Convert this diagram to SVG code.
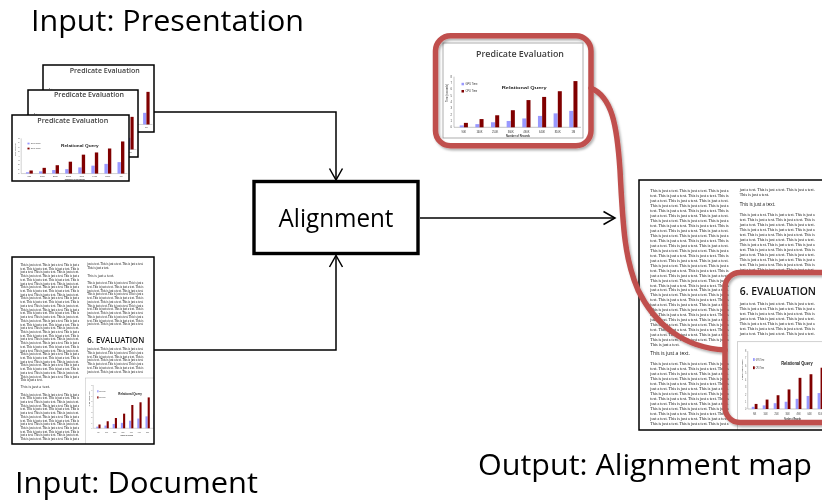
<svg xmlns="http://www.w3.org/2000/svg" xmlns:xlink="http://www.w3.org/1999/xlink" width="822" height="501" viewBox="0 0 822 501" style="opacity:0.999">
<style>
.lbl{font-family:"Open Sans","Liberation Sans",sans-serif;font-size:30px;fill:#000}
.boxtxt{font-family:"Open Sans","Liberation Sans",sans-serif;font-size:25px;fill:#000}
.edge{fill:none;stroke:#000;stroke-width:1.5}
.frame{fill:none;stroke:#000;stroke-width:1.5}
.thin{fill:none;stroke:#999;stroke-width:0.8}
.callout{fill:none;stroke:#c0504d;stroke-width:5.5;stroke-linejoin:round;stroke-linecap:round}
.body{font-family:"Liberation Serif",serif;font-size:3.1px;fill:#111}
.sub{font-family:"Open Sans",sans-serif;font-size:4px;fill:#111}
.sec{font-family:"Open Sans",sans-serif;font-size:8.5px;font-weight:600;fill:#111}
.gpu{fill:#9999ff}
.cpu{fill:#800000}
.ttl{font-family:"Open Sans","Liberation Sans",sans-serif;font-weight:600;fill:#404040}
.tiny{font-family:"Liberation Sans",sans-serif;font-size:2.6px;fill:#333}
.ax{stroke:#888;stroke-width:0.5;fill:none}
</style>
<defs>
<marker id="arr" markerUnits="userSpaceOnUse" viewBox="0 0 14 16" markerWidth="14" markerHeight="16" refX="12.5" refY="8" orient="auto">
<path d="M1,1.5 L12.5,8 L1,14.5" fill="none" stroke="#000" stroke-width="1.5"/>
</marker>
<filter id="sh" x="-10%" y="-10%" width="130%" height="130%">
<feDropShadow dx="1.5" dy="2" stdDeviation="1.2" flood-color="#000" flood-opacity="0.3"/>
</filter>
<symbol id="chart" viewBox="0 28 140 68" preserveAspectRatio="none">
<g class="tiny">
<text x="9" y="85.2" text-anchor="end">0</text>
<text x="9" y="78.87" text-anchor="end">1</text>
<text x="9" y="72.54" text-anchor="end">2</text>
<text x="9" y="66.21" text-anchor="end">3</text>
<text x="9" y="59.88" text-anchor="end">4</text>
<text x="9" y="53.55" text-anchor="end">5</text>
<text x="9" y="47.22" text-anchor="end">6</text>
<text x="9" y="40.89" text-anchor="end">7</text>
<text x="9" y="34.56" text-anchor="end">8</text>
<text transform="translate(4.6,50) rotate(-90)" text-anchor="middle">Time (seconds)</text>
<text x="20.8" y="89.5" text-anchor="middle">90K</text>
<text x="36.45" y="89.5" text-anchor="middle">160K</text>
<text x="52.1" y="89.5" text-anchor="middle">250K</text>
<text x="67.75" y="89.5" text-anchor="middle">360K</text>
<text x="83.4" y="89.5" text-anchor="middle">490K</text>
<text x="99.05" y="89.5" text-anchor="middle">640K</text>
<text x="114.7" y="89.5" text-anchor="middle">810K</text>
<text x="130.35" y="89.5" text-anchor="middle">1M</text>
<text x="75" y="93.8" text-anchor="middle" font-weight="bold">Number of Records</text>
<text x="22.5" y="42.1">GPU Time</text>
<text x="22.5" y="49.3">CPU Time</text>
</g>
<text x="58.7" y="45.8" font-family="Liberation Sans, sans-serif" font-size="4.4" font-weight="bold" fill="#222" textLength="45" lengthAdjust="spacingAndGlyphs">Relational Query</text>
<rect class="gpu" x="18.5" y="39.8" width="2.5" height="2.5"/>
<rect class="cpu" x="18.5" y="47" width="2.5" height="2.5"/>
<path class="ax" d="M11,33.7 V84.3 H138"/>
<g class="gpu">
<rect x="16.7" y="82.4" width="4" height="1.9"/>
<rect x="32.35" y="81.13" width="4" height="3.17"/>
<rect x="48" y="79.24" width="4" height="5.06"/>
<rect x="63.65" y="77.97" width="4" height="6.33"/>
<rect x="79.3" y="75.44" width="4" height="8.86"/>
<rect x="94.95" y="72.91" width="4" height="11.39"/>
<rect x="110.6" y="70.37" width="4" height="13.93"/>
<rect x="126.25" y="67.84" width="4" height="16.46"/>
</g>
<g class="cpu">
<rect x="20.9" y="79.87" width="4" height="4.43"/>
<rect x="36.55" y="76.07" width="4" height="8.23"/>
<rect x="52.2" y="72.27" width="4" height="12.03"/>
<rect x="67.85" y="67.21" width="4" height="17.09"/>
<rect x="83.5" y="57.08" width="4" height="27.22"/>
<rect x="99.15" y="53.92" width="4" height="30.38"/>
<rect x="114.8" y="48.22" width="4" height="36.08"/>
<rect x="130.45" y="38.09" width="4" height="46.21"/>
</g>
</symbol>
<symbol id="slide" viewBox="0 0 140 95" preserveAspectRatio="none">
<rect x="0" y="0" width="140" height="95" fill="#fff"/>
<use href="#chart" x="0" y="28" width="140" height="68"/>
</symbol>
<symbol id="page" viewBox="0 0 142 187" preserveAspectRatio="none">
<rect x="0" y="0" width="142" height="187" fill="#fff"/>
<g class="body">
<text x="8.5" y="9" textLength="58.5" lengthAdjust="spacingAndGlyphs">This is just a text. This is just a text. This is just a</text>
<text x="8.5" y="12.72" textLength="58.5" lengthAdjust="spacingAndGlyphs">text. This is just a text. This is just a text. This is</text>
<text x="8.5" y="16.44" textLength="58.5" lengthAdjust="spacingAndGlyphs">just a text. This is just a text. This is just a text.</text>
<text x="8.5" y="20.16" textLength="58.5" lengthAdjust="spacingAndGlyphs">This is just a text. This is just a text. This is just a</text>
<text x="8.5" y="23.88" textLength="58.5" lengthAdjust="spacingAndGlyphs">text. This is just a text. This is just a text. This is</text>
<text x="8.5" y="27.6" textLength="58.5" lengthAdjust="spacingAndGlyphs">just a text. This is just a text. This is just a text.</text>
<text x="8.5" y="31.32" textLength="58.5" lengthAdjust="spacingAndGlyphs">This is just a text. This is just a text. This is just a</text>
<text x="8.5" y="35.04" textLength="58.5" lengthAdjust="spacingAndGlyphs">text. This is just a text. This is just a text. This is</text>
<text x="8.5" y="38.76" textLength="58.5" lengthAdjust="spacingAndGlyphs">just a text. This is just a text. This is just a text.</text>
<text x="8.5" y="42.48" textLength="58.5" lengthAdjust="spacingAndGlyphs">This is just a text. This is just a text. This is just a</text>
<text x="8.5" y="46.2" textLength="58.5" lengthAdjust="spacingAndGlyphs">text. This is just a text. This is just a text. This is</text>
<text x="8.5" y="49.92" textLength="58.5" lengthAdjust="spacingAndGlyphs">just a text. This is just a text. This is just a text.</text>
<text x="8.5" y="53.64" textLength="58.5" lengthAdjust="spacingAndGlyphs">This is just a text. This is just a text. This is just a</text>
<text x="8.5" y="57.36" textLength="58.5" lengthAdjust="spacingAndGlyphs">text. This is just a text. This is just a text. This is</text>
<text x="8.5" y="61.08" textLength="58.5" lengthAdjust="spacingAndGlyphs">just a text. This is just a text. This is just a text.</text>
<text x="8.5" y="64.8" textLength="58.5" lengthAdjust="spacingAndGlyphs">This is just a text. This is just a text. This is just a</text>
<text x="8.5" y="68.52" textLength="58.5" lengthAdjust="spacingAndGlyphs">text. This is just a text. This is just a text. This is</text>
<text x="8.5" y="72.24" textLength="58.5" lengthAdjust="spacingAndGlyphs">just a text. This is just a text. This is just a text.</text>
<text x="8.5" y="75.96" textLength="58.5" lengthAdjust="spacingAndGlyphs">This is just a text. This is just a text. This is just a</text>
<text x="8.5" y="79.68" textLength="58.5" lengthAdjust="spacingAndGlyphs">text. This is just a text. This is just a text. This is</text>
<text x="8.5" y="83.4" textLength="58.5" lengthAdjust="spacingAndGlyphs">just a text. This is just a text. This is just a text.</text>
<text x="8.5" y="87.12" textLength="58.5" lengthAdjust="spacingAndGlyphs">This is just a text. This is just a text. This is just a</text>
<text x="8.5" y="90.84" textLength="58.5" lengthAdjust="spacingAndGlyphs">text. This is just a text. This is just a text. This is</text>
<text x="8.5" y="94.56" textLength="58.5" lengthAdjust="spacingAndGlyphs">just a text. This is just a text. This is just a text.</text>
<text x="8.5" y="98.28" textLength="58.5" lengthAdjust="spacingAndGlyphs">This is just a text. This is just a text. This is just a</text>
<text x="8.5" y="102" textLength="58.5" lengthAdjust="spacingAndGlyphs">text. This is just a text. This is just a text. This is</text>
<text x="8.5" y="105.72" textLength="58.5" lengthAdjust="spacingAndGlyphs">just a text. This is just a text. This is just a text.</text>
<text x="8.5" y="109.44" textLength="58.5" lengthAdjust="spacingAndGlyphs">This is just a text. This is just a text. This is just a</text>
<text x="8.5" y="113.16" textLength="58.5" lengthAdjust="spacingAndGlyphs">text. This is just a text. This is just a text. This is</text>
<text x="8.5" y="116.88" textLength="58.5" lengthAdjust="spacingAndGlyphs">just a text. This is just a text. This is just a text.</text>
<text x="8.5" y="120.6" textLength="58.5" lengthAdjust="spacingAndGlyphs">This is just a text. This is just a text. This is just a</text>
<text x="8.5" y="124.32">This is just a text.</text>
<text x="8.5" y="138.5" textLength="58.5" lengthAdjust="spacingAndGlyphs">This is just a text. This is just a text. This is just a</text>
<text x="8.5" y="142.22" textLength="58.5" lengthAdjust="spacingAndGlyphs">text. This is just a text. This is just a text. This is</text>
<text x="8.5" y="145.94" textLength="58.5" lengthAdjust="spacingAndGlyphs">just a text. This is just a text. This is just a text.</text>
<text x="8.5" y="149.66" textLength="58.5" lengthAdjust="spacingAndGlyphs">This is just a text. This is just a text. This is just a</text>
<text x="8.5" y="153.38" textLength="58.5" lengthAdjust="spacingAndGlyphs">text. This is just a text. This is just a text. This is</text>
<text x="8.5" y="157.1" textLength="58.5" lengthAdjust="spacingAndGlyphs">just a text. This is just a text. This is just a text.</text>
<text x="8.5" y="160.82" textLength="58.5" lengthAdjust="spacingAndGlyphs">This is just a text. This is just a text. This is just a</text>
<text x="8.5" y="164.54" textLength="58.5" lengthAdjust="spacingAndGlyphs">text. This is just a text. This is just a text. This is</text>
<text x="8.5" y="168.26" textLength="58.5" lengthAdjust="spacingAndGlyphs">just a text. This is just a text. This is just a text.</text>
<text x="8.5" y="171.98" textLength="58.5" lengthAdjust="spacingAndGlyphs">This is just a text. This is just a text. This is just a</text>
<text x="8.5" y="175.7" textLength="58.5" lengthAdjust="spacingAndGlyphs">text. This is just a text. This is just a text. This is</text>
<text x="8.5" y="179.42" textLength="58.5" lengthAdjust="spacingAndGlyphs">just a text. This is just a text. This is just a text.</text>
<text x="8.5" y="183.14" textLength="58.5" lengthAdjust="spacingAndGlyphs">This is just a text. This is just a text. This is just a</text>
<text x="75.3" y="8.3" textLength="56" lengthAdjust="spacingAndGlyphs">just a text. This is just a text. This is just a text.</text>
<text x="75.3" y="12.1">This is just a text.</text>
<text x="75.3" y="27.3" textLength="56" lengthAdjust="spacingAndGlyphs">This is just a text. This is just a text. This is just a</text>
<text x="75.3" y="31.02" textLength="56" lengthAdjust="spacingAndGlyphs">text. This is just a text. This is just a text. This is</text>
<text x="75.3" y="34.74" textLength="56" lengthAdjust="spacingAndGlyphs">just a text. This is just a text. This is just a text.</text>
<text x="75.3" y="38.46" textLength="56" lengthAdjust="spacingAndGlyphs">This is just a text. This is just a text. This is just a</text>
<text x="75.3" y="42.18" textLength="56" lengthAdjust="spacingAndGlyphs">text. This is just a text. This is just a text. This is</text>
<text x="75.3" y="45.9" textLength="56" lengthAdjust="spacingAndGlyphs">just a text. This is just a text. This is just a text.</text>
<text x="75.3" y="49.62" textLength="56" lengthAdjust="spacingAndGlyphs">This is just a text. This is just a text. This is just a</text>
<text x="75.3" y="53.34" textLength="56" lengthAdjust="spacingAndGlyphs">text. This is just a text. This is just a text. This is</text>
<text x="75.3" y="57.06" textLength="56" lengthAdjust="spacingAndGlyphs">just a text. This is just a text. This is just a text.</text>
<text x="75.3" y="60.78" textLength="56" lengthAdjust="spacingAndGlyphs">This is just a text. This is just a text. This is just a</text>
<text x="75.3" y="64.5" textLength="56" lengthAdjust="spacingAndGlyphs">text. This is just a text. This is just a text. This is</text>
<text x="75.3" y="68.22" textLength="56" lengthAdjust="spacingAndGlyphs">just a text. This is just a text. This is just a text.</text>
<text x="75.3" y="93.3" textLength="56" lengthAdjust="spacingAndGlyphs">just a text. This is just a text. This is just a text.</text>
<text x="75.3" y="97.02" textLength="56" lengthAdjust="spacingAndGlyphs">This is just a text. This is just a text. This is just a</text>
<text x="75.3" y="100.74" textLength="56" lengthAdjust="spacingAndGlyphs">text. This is just a text. This is just a text. This is</text>
<text x="75.3" y="104.46" textLength="56" lengthAdjust="spacingAndGlyphs">just a text. This is just a text. This is just a text.</text>
<text x="75.3" y="108.18" textLength="56" lengthAdjust="spacingAndGlyphs">This is just a text. This is just a text. This is just a</text>
<text x="75.3" y="111.9" textLength="56" lengthAdjust="spacingAndGlyphs">text. This is just a text. This is just a text. This is</text>
<text x="75.3" y="115.62" textLength="56" lengthAdjust="spacingAndGlyphs">just a text. This is just a text. This is just a text.</text>
</g>
<text class="sub" x="8.5" y="131" textLength="29.5" lengthAdjust="spacingAndGlyphs">This is just a text.</text>
<text class="sub" x="75.3" y="19.6" textLength="26.7" lengthAdjust="spacingAndGlyphs">This is just a text.</text>
<text class="sec" x="75.3" y="86" textLength="57" lengthAdjust="spacingAndGlyphs">6. EVALUATION</text>
<rect x="73.5" y="121" width="70" height="70" fill="#fff" stroke="#aaa" stroke-width="0.4"/>
<use href="#chart" x="75.5" y="123.1" width="73.4" height="58.2"/>
</symbol>
</defs>
<rect x="0" y="0" width="822" height="501" fill="#fff"/>

<g id="presentation">
<text class="lbl" x="31" y="31" font-size="26" textLength="273" lengthAdjust="spacingAndGlyphs">Input: Presentation</text>
<g id="slide-back">
<use href="#slide" x="43" y="65" width="111" height="67"/>
<rect class="frame" x="43" y="65" width="111" height="67"/>
<text class="ttl" x="104.7" y="72.7" font-size="7" text-anchor="middle" textLength="70" lengthAdjust="spacingAndGlyphs">Predicate Evaluation</text>
</g>
<g id="slide-middle">
<use href="#slide" x="28" y="90" width="110" height="67"/>
<rect class="frame" x="28" y="90" width="110" height="67"/>
<text class="ttl" x="89" y="97.3" font-size="7" text-anchor="middle" textLength="70" lengthAdjust="spacingAndGlyphs">Predicate Evaluation</text>
</g>
<g id="slide-front">
<use href="#slide" x="12" y="115" width="117" height="66"/>
<rect class="frame" x="12" y="115" width="117" height="66"/>
<text class="ttl" x="72.8" y="122.7" font-size="7" text-anchor="middle" textLength="71" lengthAdjust="spacingAndGlyphs">Predicate Evaluation</text>
</g>
</g>

<g id="document">
<use href="#page" x="12" y="257" width="142" height="187"/>
<rect class="frame" x="12" y="257" width="142" height="187"/>
<text class="lbl" x="15" y="492.7" textLength="243" lengthAdjust="spacingAndGlyphs">Input: Document</text>
</g>

<g id="alignment">
<rect x="254" y="181.5" width="164" height="72" fill="#fff" stroke="#000" stroke-width="3.4"/>
<text class="boxtxt" x="336" y="227.3" text-anchor="middle" textLength="115" lengthAdjust="spacingAndGlyphs">Alignment</text>
</g>

<g id="output">
<use href="#page" x="639" y="180" width="190" height="250"/>
<rect class="frame" x="639" y="180" width="190" height="250"/>
<text class="lbl" x="478" y="475" textLength="334" lengthAdjust="spacingAndGlyphs">Output: Alignment map</text>
</g>

<g id="connectors">
<path class="edge" d="M154,112 H336 V180" marker-end="url(#arr)"/>
<path class="edge" d="M154,350 H336 V255.5" marker-end="url(#arr)"/>
<path class="edge" d="M420,218 H615" marker-end="url(#arr)"/>
</g>

<g id="highlight">
<use href="#slide" x="443" y="43" width="140" height="95"/>
<rect class="thin" x="443" y="43" width="140" height="95"/>
<text class="ttl" x="520" y="56.7" font-size="9" text-anchor="middle" textLength="88" lengthAdjust="spacingAndGlyphs">Predicate Evaluation</text>
<g filter="url(#sh)">
<rect class="callout" x="435.5" y="35.8" width="155.5" height="110" rx="15"/>
<path class="callout" d="M591,88 C612,97 617,125 620,170 C623,230 625,260 638,290 C655,325 685,348 725,350"/>
<rect class="callout" x="725" y="272.5" width="120" height="150" rx="15"/>
</g>
</g>
</svg>
